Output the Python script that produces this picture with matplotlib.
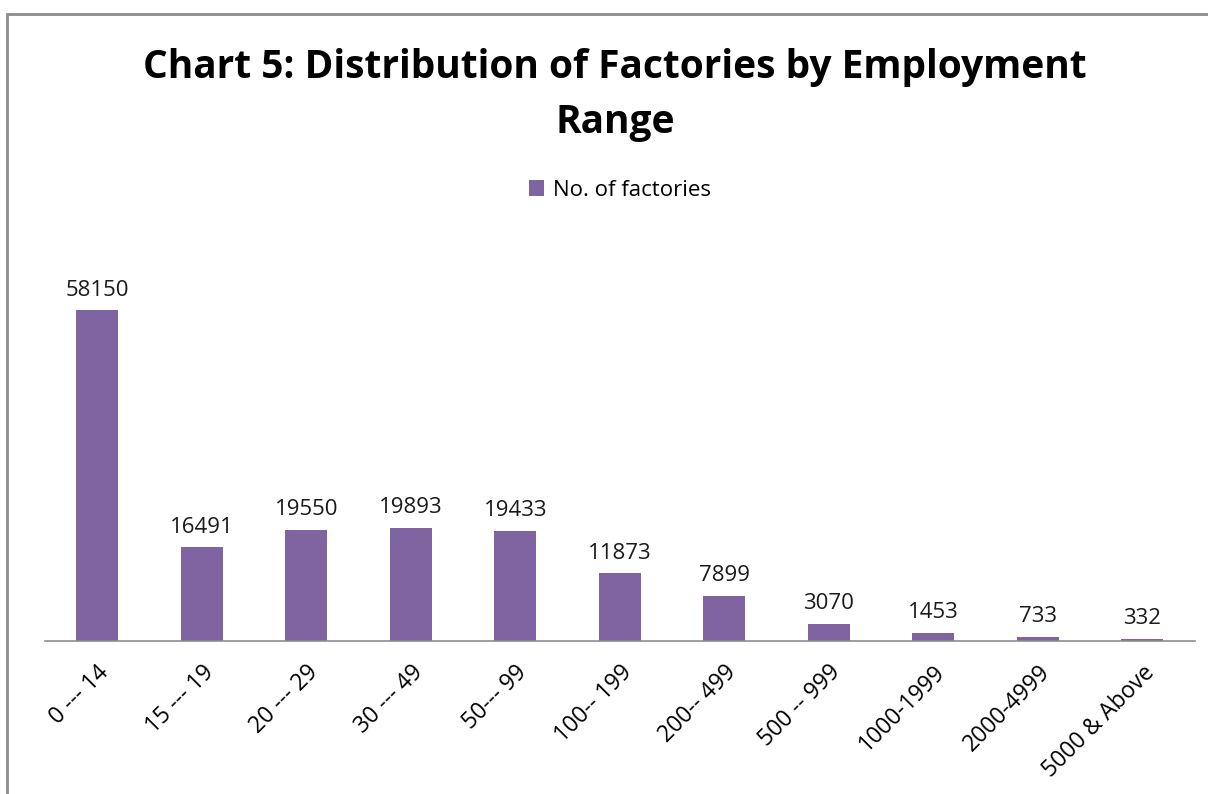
import matplotlib
matplotlib.use("Agg")
import matplotlib.pyplot as plt
from matplotlib.patches import Rectangle

categories = ["0 --- 14", "15 --- 19", "20 --- 29", "30 --- 49", "50--- 99",
              "100-- 199", "200-- 499", "500 -- 999", "1000-1999", "2000-4999",
              "5000 & Above"]
factories = [58150, 16491, 19550, 19893, 19433, 11873, 7899, 3070, 1453, 733, 332]
series_name = "No. of factories"
title = "Chart 5: Distribution of Factories by Employment\nRange"

plt.rcParams['font.family'] = ['Open Sans', 'DejaVu Sans']
color = "#8064A2"

fig = plt.figure(figsize=(12.08, 7.94), dpi=100)
# frame
fig.patches.append(Rectangle((7/1208, -0.01), 1.02, 1 - 14/794 + 0.01,
                             transform=fig.transFigure, fill=False,
                             edgecolor="#8c8c8c", linewidth=2))

ax = fig.add_axes([45/1208, 1 - 641/794, 1149.5/1208, (641 - 243)/794])
x = list(range(len(categories)))
bars = ax.bar(x, factories, width=0.4, color=color, label=series_name)
ax.set_xlim(-0.5, len(categories) - 0.5)
ax.set_ylim(0, 70000)
for xi, v in zip(x, factories):
    ax.annotate(str(v), (xi, v), xytext=(0, 7), textcoords="offset points",
                ha="center", va="bottom", fontsize=16, color="#1a1a1a")
ax.set_xticks(x)
ax.set_xticklabels(categories, rotation=45, ha="right", va="top",
                   rotation_mode="anchor", fontsize=16.5)
ax.tick_params(axis="x", length=0, pad=14)
ax.set_yticks([])
for s in ["top", "left", "right"]:
    ax.spines[s].set_visible(False)
ax.spines["bottom"].set_color("#8c8c8c")
ax.spines["bottom"].set_linewidth(1.2)

fig.text(615/1208, 1 - 95/794, title, ha="center", va="center",
         fontsize=28, fontweight="bold", linespacing=1.52)
fig.legend(handles=[bars], labels=[series_name], loc="center",
           bbox_to_anchor=(620/1208, 1 - 190/794), frameon=False,
           fontsize=16, handlelength=0.7, handleheight=0.7, handletextpad=0.4)

fig.savefig("out.png", dpi=100)
